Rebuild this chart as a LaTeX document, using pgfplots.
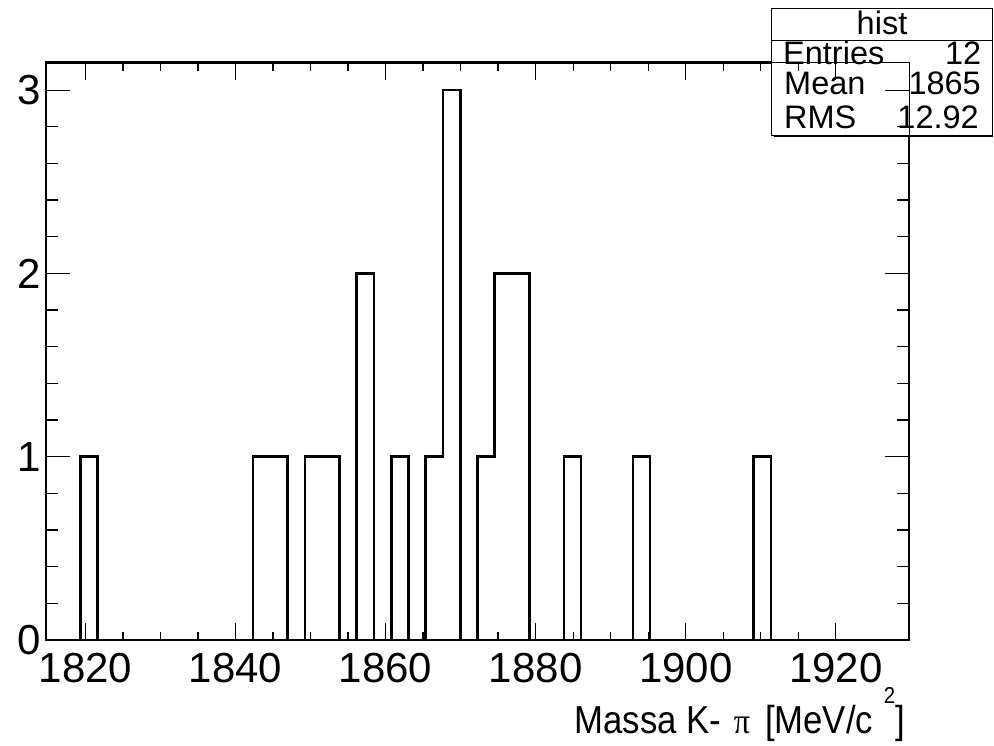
\documentclass[border=0pt]{standalone}
\usepackage{pgfplots}
\pgfplotsset{compat=1.18}
\usepackage{fontspec}
\setmainfont{Liberation Sans}
\newfontfamily\greekserif{Liberation Serif}
\pgfplotstableread{
x y
1814.75 0
1817.05 0
1819.35 1
1821.65 0
1823.95 0
1826.25 0
1828.55 0
1830.85 0
1833.15 0
1835.45 0
1837.75 0
1840.05 0
1842.35 1
1844.65 1
1846.95 0
1849.25 1
1851.55 1
1853.85 0
1856.15 2
1858.45 0
1860.75 1
1863.05 0
1865.35 1
1867.65 3
1869.95 0
1872.25 1
1874.55 2
1876.85 2
1879.15 0
1881.45 0
1883.75 1
1886.05 0
1888.35 0
1890.65 0
1892.95 1
1895.25 0
1897.55 0
1899.85 0
1902.15 0
1904.45 0
1906.75 0
1909.05 1
1911.35 0
1913.65 0
1915.95 0
1918.25 0
1920.55 0
1922.85 0
1925.15 0
1927.45 0
1929.75 0
}\histdata
\pgfplotsset{
  rootaxis/.style={
    at={(46pt,105pt)}, anchor=south west,
    scale only axis, width=863pt, height=577.3pt,
    xmin=1814.75, xmax=1929.75, ymin=0, ymax=3.15,
    xtick={1820,1840,...,1920}, ytick={0,1,2,3},
    minor x tick num=3, minor y tick num=4,
    tick align=inside, tick pos=both,
    xticklabel pos=left, yticklabel pos=left,
    scaled x ticks=false, scaled y ticks=false,
    /pgf/number format/1000 sep={},
    /pgf/number format/assume math mode=true,
    xtick style={/pgfplots/major tick length=17pt,/pgfplots/minor tick length=8pt},
    ytick style={/pgfplots/major tick length=24pt,/pgfplots/minor tick length=12pt},
    ticklabel style={font=\fontsize{42}{42}\selectfont, inner sep=0pt},
    xticklabel style={yshift=-13pt},
    yticklabel style={xshift=-5pt},
  }
}
\begin{document}
\begin{tikzpicture}[x=1pt,y=1pt]
\path[use as bounding box] (0,0) rectangle (994,745);
\begin{axis}[rootaxis,
  axis line style={line width=2.6pt, black},
  tick style={line width=1.3pt, black},
  xlabel={\scalebox{0.89}[1]{Massa K-\hspace{14pt}{\greekserif\fontsize{36}{36}\selectfont π}\hspace{17pt}[MeV/c\hspace{12pt}\raisebox{30pt}{\fontsize{23}{23}\selectfont 2}]}},
  every axis x label/.style={at={(axis description cs:0.9954,-0.1611)}, anchor=base east, inner sep=0pt, font=\fontsize{39}{39}\selectfont},
]
\addplot[const plot mark left, line width=2.6pt, black, line join=miter] table {\histdata};
\end{axis}
% stats box
\fill[white] (771,610) rectangle (992.5,736.7);
\begin{scope}
\clip (771,610) rectangle (992.5,736.7);
\begin{axis}[rootaxis,
  axis line style={line width=0.9pt, black},
  tick style={line width=0.9pt, black},
  xticklabels={}, yticklabels={}]
\end{axis}
\end{scope}
\draw[line width=2pt] (774,609) -- (992.5,609);
\draw[line width=0.9pt] (771,610) rectangle (992.5,736.7);
\draw[line width=0.9pt] (771,704.3) -- (992.5,704.3);
\begin{scope}[every node/.style={inner sep=0pt, font=\fontsize{32.5}{32.5}\selectfont}]
\node[anchor=base] at (882,710) {hist};
\node[anchor=base west] at (783,680.7) {Entries};
\node[anchor=base east] at (981.5,680.7) {12};
\node[anchor=base west] at (784,650) {Mean};
\node[anchor=base east] at (981,650) {1865};
\node[anchor=base west] at (784,616.7) {RMS};
\node[anchor=base east] at (979,616.7) {12.92};
\end{scope}
\end{tikzpicture}
\end{document}
